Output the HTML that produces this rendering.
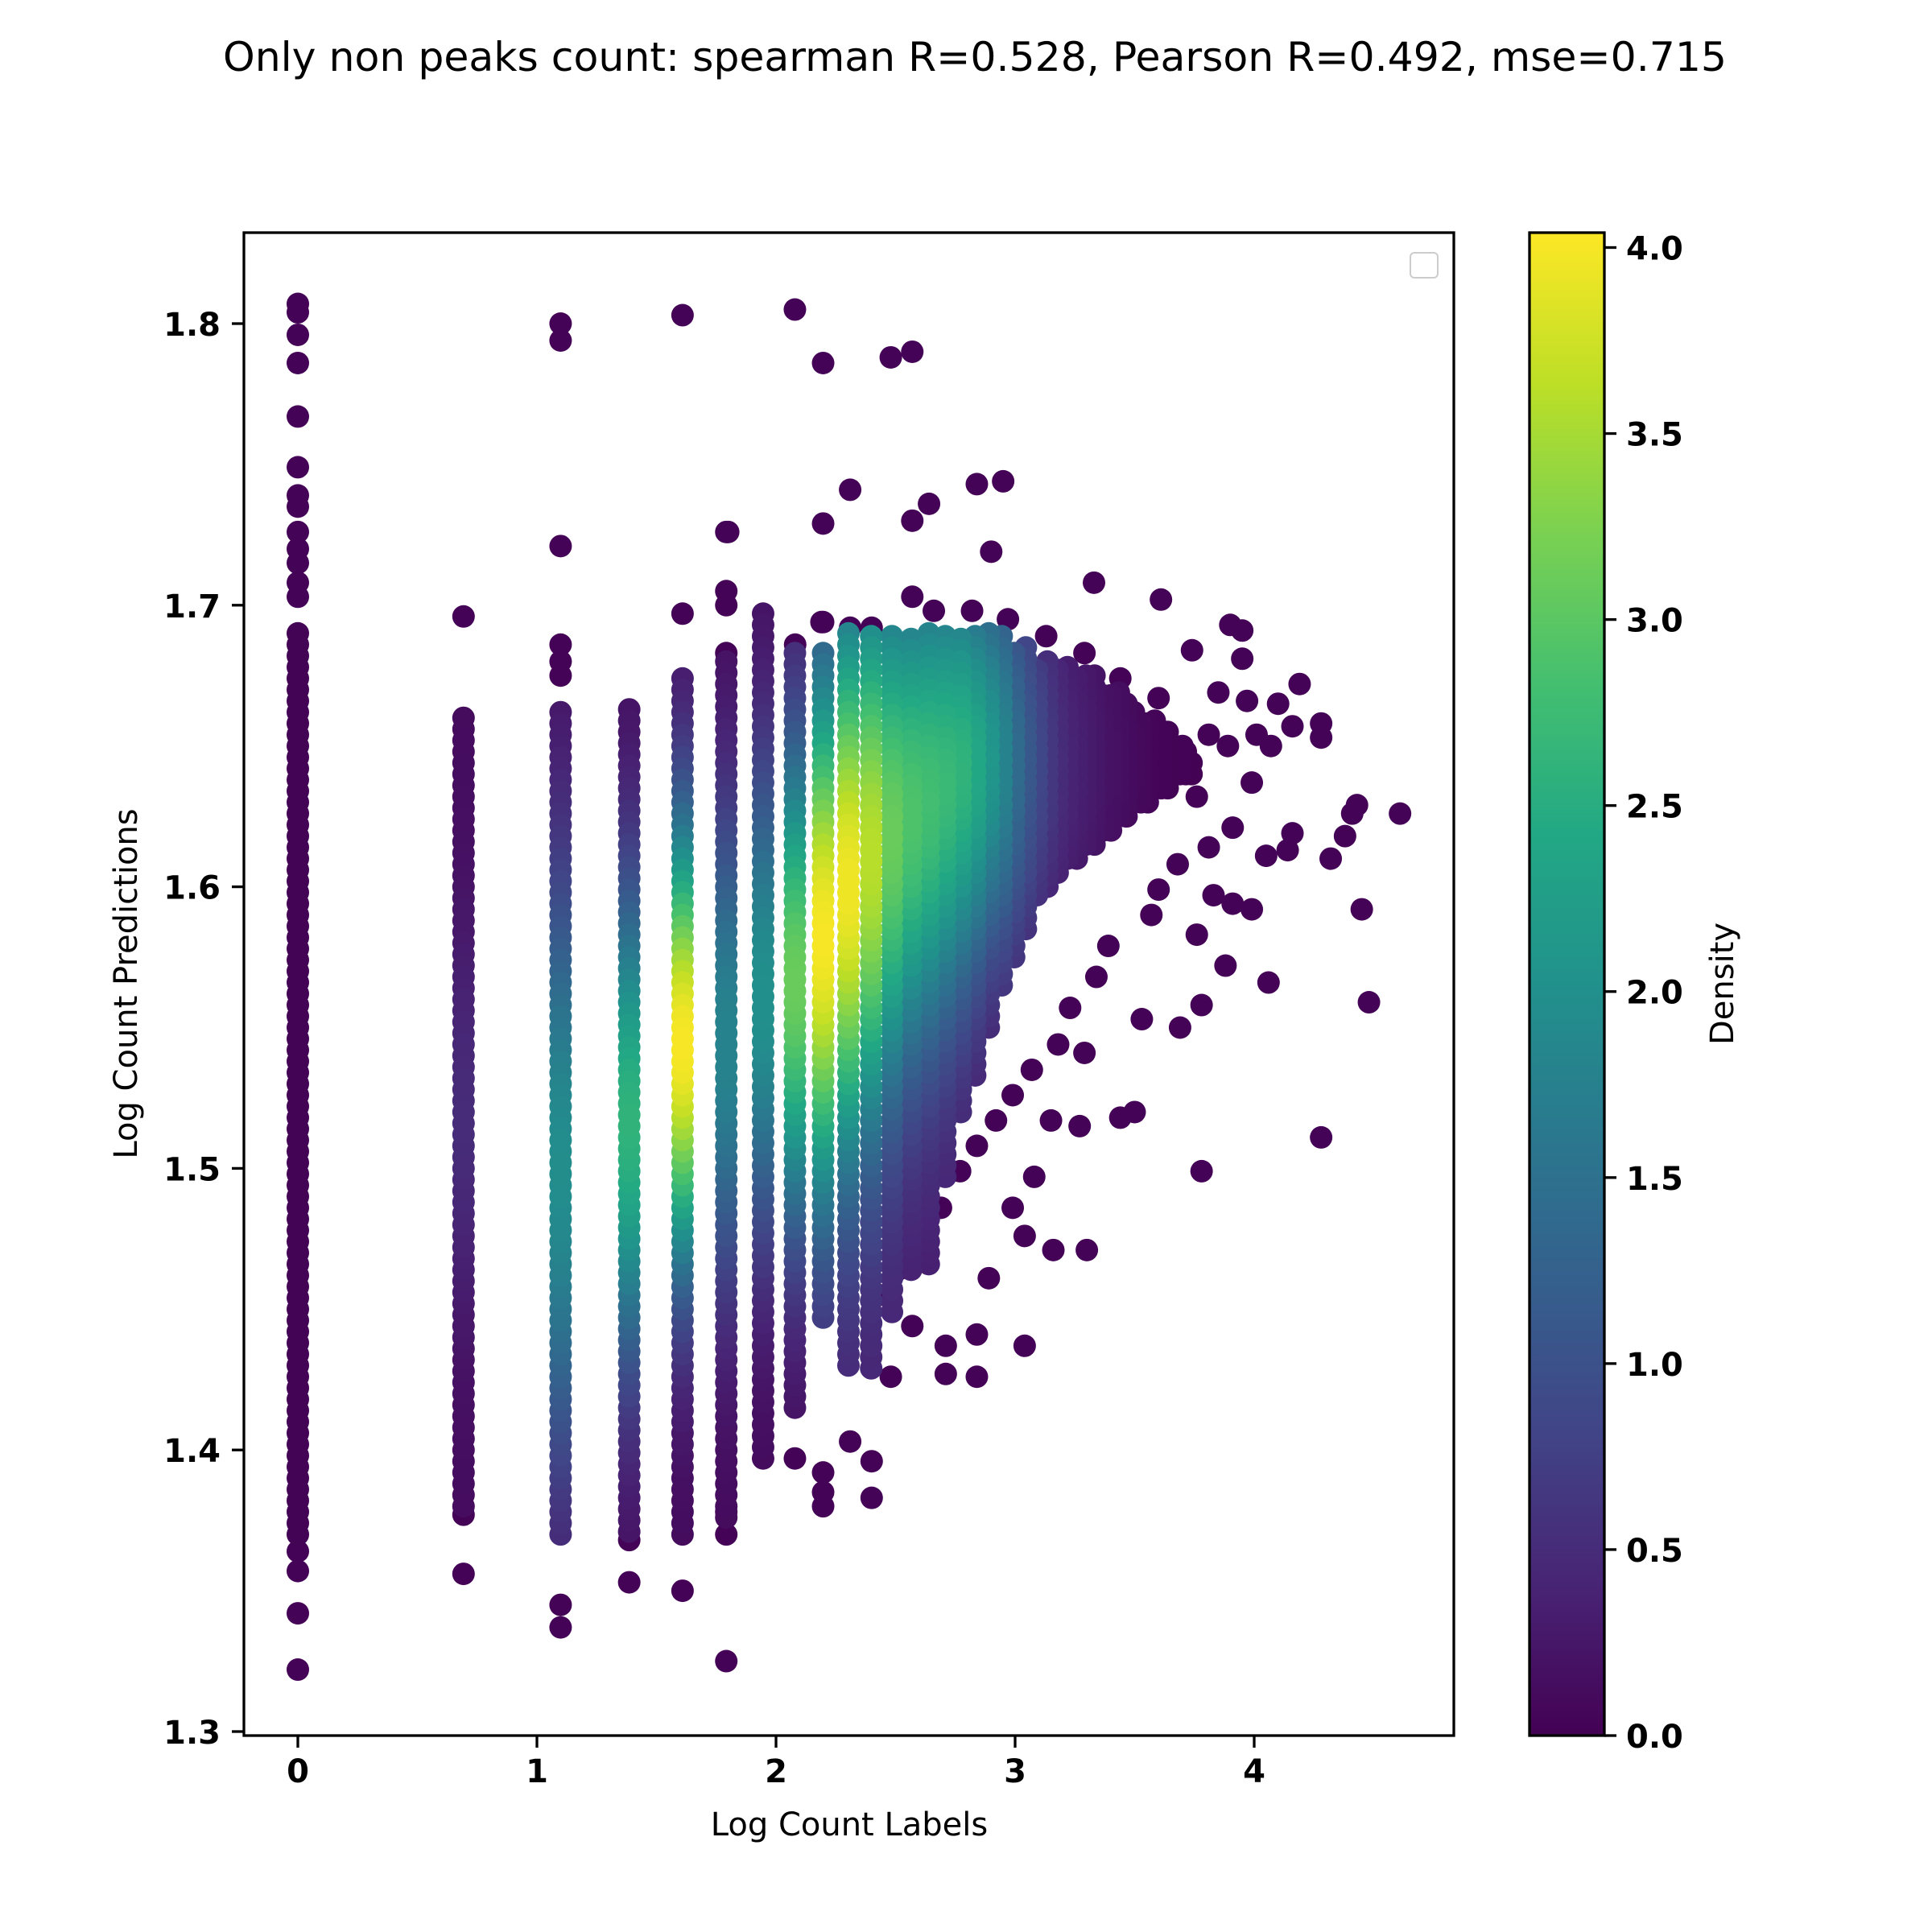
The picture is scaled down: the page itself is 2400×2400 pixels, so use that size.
<!DOCTYPE html>
<html><head><meta charset="utf-8"><style>
html,body{margin:0;padding:0;background:#fff;}
svg{display:block;font-family:"DejaVu Sans","Liberation Sans",sans-serif;}
</style></head><body>
<svg id="chart" width="2400" height="2400" viewBox="0 0 2400 2400" xmlns="http://www.w3.org/2000/svg">
<defs>
<linearGradient id="vir" x1="0" y1="1" x2="0" y2="0">
<stop offset="0" stop-color="#440154"/><stop offset="0.1" stop-color="#482475"/><stop offset="0.2" stop-color="#414487"/><stop offset="0.3" stop-color="#355f8d"/><stop offset="0.4" stop-color="#2a788e"/><stop offset="0.5" stop-color="#21918c"/><stop offset="0.6" stop-color="#22a884"/><stop offset="0.7" stop-color="#44bf70"/><stop offset="0.8" stop-color="#7ad151"/><stop offset="0.9" stop-color="#bddf26"/><stop offset="1" stop-color="#fde725"/>
</linearGradient>
<clipPath id="plotclip"><rect x="303" y="289" width="1503" height="1867"/></clipPath>
</defs>
<text x="1211" y="88" font-size="50" text-anchor="middle" textLength="1868" lengthAdjust="spacingAndGlyphs">Only non peaks count: spearman R=0.528, Pearson R=0.492, mse=0.715</text>
<g id="marks" clip-path="url(#plotclip)"></g>
<rect x="303" y="289" width="1503" height="1867" fill="none" stroke="#000" stroke-width="3.3"/>
<rect x="1752" y="314" width="34" height="31" rx="5" fill="#fff" stroke="#ccc" stroke-width="2"/>
<g id="xaxis"></g>
<g id="yaxis"></g>
<text x="1055" y="2280" font-size="40" text-anchor="middle">Log Count Labels</text>
<text transform="translate(170,1222) rotate(-90)" font-size="40" text-anchor="middle">Log Count Predictions</text>
<rect x="1900" y="289" width="93" height="1867" fill="url(#vir)" stroke="#000" stroke-width="3.3"/>
<g id="cbaxis"></g>
<text transform="translate(2153,1222) rotate(-90)" font-size="40" text-anchor="middle">Density</text>
</svg>
<script>
// column data (x = log count label), continuous range and density profile
const colX    =[0,0.693,1.099,1.386,1.609,1.792,1.946,2.079,2.197,2.303,2.398,2.485,2.565,2.639,2.708,2.773,2.833,2.890,2.944,2.996,3.045,3.091,3.135,3.178,3.219,3.258,3.296,3.332,3.367,3.401,3.434,3.466,3.497,3.526,3.555,3.584,3.611,3.638,3.664,3.689,3.714,3.738];
const colLo   =[1.37,1.38,1.37,1.371,1.37,1.376,1.397,1.415,1.447,1.43,1.429,1.449,1.464,1.466,1.497,1.52,1.533,1.55,1.565,1.575,1.585,1.597,1.60,1.605,1.61,1.61,1.615,1.615,1.62,1.62,1.625,1.625,1.63,1.63,1.63,1.635,1.635,1.635,1.64,1.64,1.64,1.64];
const colHi   =[1.69,1.66,1.665,1.666,1.675,1.68,1.70,1.685,1.685,1.69,1.69,1.69,1.69,1.69,1.69,1.69,1.69,1.69,1.69,1.685,1.685,1.68,1.68,1.68,1.68,1.675,1.675,1.675,1.67,1.67,1.67,1.665,1.665,1.66,1.66,1.66,1.655,1.655,1.65,1.65,1.65,1.645];
const colPeakY=[1.53,1.516,1.50,1.516,1.544,1.544,1.56,1.566,1.582,1.60,1.61,1.618,1.625,1.63,1.635,1.64,1.642,1.645,1.645,1.645,1.645,1.645,1.645,1.645,1.645,1.645,1.645,1.645,1.645,1.645,1.645,1.645,1.645,1.645,1.645,1.645,1.645,1.645,1.645,1.645,1.645,1.645];
const colPeakD=[0.03,0.5,1.95,2.6,4.0,1.8,2.0,3.1,4.0,3.95,3.6,3.1,2.9,2.8,2.7,2.6,2.4,2.1,1.8,1.4,1.1,0.85,0.65,0.5,0.4,0.35,0.3,0.25,0.2,0.18,0.15,0.12,0.1,0.08,0.06,0.05,0.04,0.03,0.02,0.02,0.01,0.01];
const colSigma=[0.1,0.05,0.075,0.06,0.055,0.06,0.06,0.06,0.065,0.068,0.068,0.065,0.062,0.06,0.058,0.055,0.052,0.05,0.05,0.05,0.05,0.05,0.05,0.05,0.05,0.05,0.05,0.05,0.05,0.05,0.05,0.05,0.05,0.05,0.05,0.05,0.05,0.05,0.05,0.05,0.05,0.05];
const colBase =[0.03,0.12,0.1,0.1,0.1,0.08,0.08,0.1,0.3,0.35,0.35,0.35,0.3,0.3,0.3,0.3,0.25,0.2,0.2,0.15,0.12,0.1,0.08,0.06,0.05,0.04,0.04,0.03,0.03,0.03,0.02,0.02,0.02,0.02,0.02,0.02,0.02,0.01,0.01,0.01,0.01,0.01];
// isolated points
const outX=[0,0,0,0,0,0,0,0,0,0,0,0,0,0,0,0,0,0.693,0.693,0.693,1.099,1.099,1.099,1.099,1.099,1.099,1.099,1.099,1.386,1.386,1.609,1.609,1.609,1.792,1.792,1.792,1.792,1.792,1.792,1.792,2.079,2.079,2.197,2.197,2.197,2.197,2.197,2.197,2.48,2.57,2.31,2.84,2.95,2.64,2.57,1.80,2.90,3.33,3.61,3.74,3.90,3.95,3.95,3.85,3.97,4.19,4.10,4.28,4.28,4.16,4.43,4.41,4.38,4.61,4.16,4.14,4.32,4.05,3.99,4.45,4.06,4.48,3.88,3.78,3.69,3.53,3.76,4.28,3.50,3.44,3.27,3.78,3.16,3.30,3.04,2.89,2.84,2.84,2.71,2.71,2.48,2.40,2.40,2.57,2.31,2.99,3.04,3.08,3.15,3.76,3.81,3.91,3.68,3.83,3.91,3.60,3.57,3.39,3.34,3.23,3.18,3.29,3.07,2.99,2.92,2.84,2.77,2.69,2.61,2.51,2.43,3.99,4.07,4.01,3.89,3.70,3.81,3.60,3.44,3.29,3.13,2.97,2.82,2.66,2.57,2.40,2.31,2.19,2.08];
const outY=[1.807,1.804,1.796,1.786,1.767,1.749,1.739,1.735,1.726,1.72,1.715,1.708,1.703,1.364,1.357,1.342,1.322,1.696,1.377,1.356,1.80,1.794,1.721,1.686,1.68,1.675,1.345,1.337,1.368,1.353,1.803,1.697,1.35,1.726,1.705,1.70,1.683,1.378,1.37,1.325,1.805,1.397,1.786,1.729,1.694,1.38,1.385,1.392,1.788,1.79,1.741,1.743,1.744,1.736,1.73,1.726,1.719,1.708,1.702,1.684,1.693,1.691,1.681,1.669,1.666,1.672,1.665,1.658,1.653,1.657,1.629,1.626,1.618,1.626,1.619,1.613,1.610,1.611,1.592,1.592,1.566,1.559,1.572,1.558,1.550,1.553,1.583,1.511,1.520,1.518,1.515,1.499,1.471,1.471,1.437,1.461,1.441,1.426,1.427,1.437,1.426,1.396,1.383,1.444,1.403,1.486,1.476,1.497,1.517,1.632,1.614,1.621,1.608,1.597,1.594,1.599,1.590,1.579,1.568,1.557,1.544,1.541,1.535,1.526,1.517,1.508,1.499,1.486,1.477,1.464,1.455,1.637,1.650,1.654,1.650,1.650,1.654,1.667,1.674,1.683,1.689,1.695,1.698,1.698,1.703,1.692,1.692,1.694,1.686];
const xTicks=[0,1,2,3,4];
const xTickLabels=["0","1","2","3","4"];
const yTicks=[1.3,1.4,1.5,1.6,1.7,1.8];
const yTickLabels=["1.3","1.4","1.5","1.6","1.7","1.8"];
const cTicks=[0,0.5,1,1.5,2,2.5,3,3.5,4];
const cTickLabels=["0.0","0.5","1.0","1.5","2.0","2.5","3.0","3.5","4.0"];

const NS="http://www.w3.org/2000/svg";
const xs=v=>370+v*297;
const ys=v=>402+(1.8-v)*3498;
const cs=v=>2156-v/4.04*(2156-289);
const vir=["#440154","#482475","#414487","#355f8d","#2a788e","#21918c","#22a884","#44bf70","#7ad151","#bddf26","#fde725"];
function hex(h){return [1,3,5].map(i=>parseInt(h.substr(i,2),16));}
function color(d){let t=Math.max(0,Math.min(1,d/4.04))*10;let i=Math.min(9,Math.floor(t));let f=t-i;
 const a=hex(vir[i]),b=hex(vir[i+1]);return "rgb("+a.map((c,k)=>Math.round(c+(b[k]-c)*f)).join(",")+")";}
const pts=[];
for(let c=0;c<colX.length;c++){
 const lo=colLo[c],hi=colHi[c],py=colPeakY[c],pd=colPeakD[c],sg=colSigma[c],bs=colBase[c];
 for(let y=lo;y<=hi+1e-9;y+=0.004){
  const r=(y-py)/sg;const d=Math.min(pd,bs+(pd-bs)*Math.exp(-r*r/2));
  pts.push([colX[c],y,d]);
 }
}
for(let i=0;i<outX.length;i++)pts.push([outX[i],outY[i],0.02]);
pts.sort((a,b)=>a[2]-b[2]);
const g=document.getElementById("marks");
for(const p of pts){
 const e=document.createElementNS(NS,"circle");
 e.setAttribute("cx",xs(p[0]));e.setAttribute("cy",ys(p[1]));
 e.setAttribute("r",14);e.setAttribute("fill",color(p[2]));
 
 
 g.appendChild(e);
}
function tick(parent,x1,y1,x2,y2){const l=document.createElementNS(NS,"line");
 l.setAttribute("x1",x1);l.setAttribute("y1",y1);l.setAttribute("x2",x2);l.setAttribute("y2",y2);
 l.setAttribute("stroke","#000");l.setAttribute("stroke-width",3.3);
 
 
 parent.appendChild(l);}
function label(parent,x,y,txt,anchor){const t=document.createElementNS(NS,"text");
 t.setAttribute("x",x);t.setAttribute("y",y);t.setAttribute("font-size",40);t.setAttribute("font-weight","bold");
 t.setAttribute("text-anchor",anchor);t.textContent=txt;
 
 
 parent.appendChild(t);}
const xa=document.getElementById("xaxis");
xTicks.forEach((v,i)=>{tick(xa,xs(v),2156,xs(v),2171);label(xa,xs(v),2214,xTickLabels[i],"middle");});
const ya=document.getElementById("yaxis");
yTicks.forEach((v,i)=>{tick(ya,288,ys(v),303,ys(v));label(ya,274,ys(v)+15,yTickLabels[i],"end");});
const ca=document.getElementById("cbaxis");
cTicks.forEach((v,i)=>{tick(ca,1993,cs(v),2008,cs(v));label(ca,2020,cs(v)+15,cTickLabels[i],"start");});
</script>
</body></html>
